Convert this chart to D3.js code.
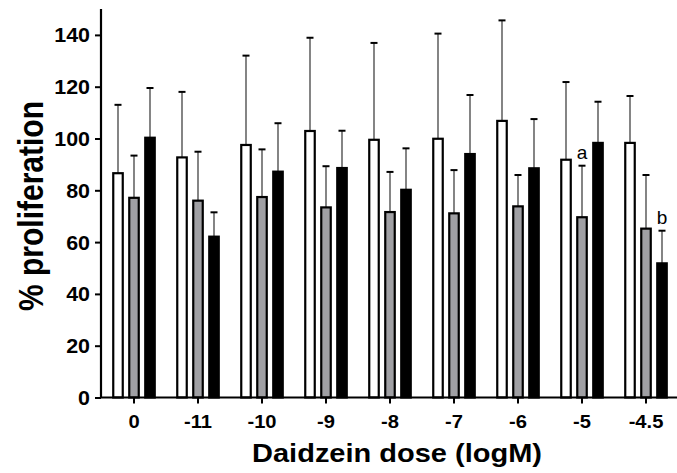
<!DOCTYPE html>
<html>
<head>
<meta charset="utf-8">
<script src="https://cdn.jsdelivr.net/npm/d3@7"></script>
<style>
  body { margin: 0; background: #fff; }
  text { font-family: "Liberation Sans", Arial, sans-serif; }
</style>
</head>
<body>
<svg id="chart" width="677" height="473"></svg>
<script>
// values
const doses = ["0", "-11", "-10", "-9", "-8", "-7", "-6", "-5", "-4.5"];
const series = ["white", "gray", "black"];
const meanWhite = [86.6, 92.7, 97.5, 102.9, 99.5, 99.9, 106.8, 91.8, 98.3];
const sdWhite   = [26.4, 25.3, 34.5, 36.0, 37.4, 40.6, 38.8, 30.0, 18.1];
const meanGray  = [77.1, 76.0, 77.4, 73.4, 71.6, 71.1, 73.8, 69.6, 65.2];
const sdGray    = [16.3, 18.9, 18.4, 15.9, 15.5, 16.7, 12.1, 19.9, 20.7];
const meanBlack = [100.3, 62.1, 87.2, 88.6, 80.2, 94.0, 88.5, 98.3, 51.8];
const sdBlack   = [19.2, 9.4, 18.7, 14.4, 16.0, 22.8, 19.0, 15.9, 12.6];
const yTicks = [0, 20, 40, 60, 80, 100, 120, 140];
const notes = [
  { dose: "-5", series: "gray", text: "a" },
  { dose: "-4.5", series: "black", text: "b" }
];

const fills = { white: "#ffffff", gray: "#a0a0a4", black: "#000000" };
const means = { white: meanWhite, gray: meanGray, black: meanBlack };
const sds = { white: sdWhite, gray: sdGray, black: sdBlack };

const svg = d3.select("#chart");

const x = d3.scaleBand().domain(doses).range([102, 678]);
const sub = d3.scaleBand().domain(series).range([-24, 24]);
const y = d3.scaleLinear().domain([0, 150]).range([397.5, 9]);
const barW = 9.5;

const rows = [];
series.forEach(s => {
  doses.forEach((d, i) => rows.push({ dose: d, s: s, v: means[s][i], sd: sds[s][i] }));
});
const cx = r => x(r.dose) + x.bandwidth() / 2 + sub(r.s) + sub.bandwidth() / 2;

// error bars (upper only)
const err = svg.append("g");
err.selectAll("line.stem")
  .data(rows)
  .join("line")
    .attr("class", "stem")
    .attr("x1", cx).attr("x2", cx)
    .attr("y1", d => y(d.v)).attr("y2", d => y(d.v + d.sd))
    .attr("stroke", "#333").attr("stroke-width", 1.2);
err.selectAll("line.cap")
  .data(rows)
  .join("line")
    .attr("class", "cap")
    .attr("x1", d => cx(d) - 3.5).attr("x2", d => cx(d) + 3.5)
    .attr("y1", d => y(d.v + d.sd)).attr("y2", d => y(d.v + d.sd))
    .attr("stroke", "#000").attr("stroke-width", 2);

// bars
svg.append("g").selectAll("rect")
  .data(rows)
  .join("rect")
    .attr("x", d => cx(d) - barW / 2)
    .attr("width", barW)
    .attr("y", d => y(d.v))
    .attr("height", d => y(0) - y(d.v))
    .attr("fill", d => fills[d.s])
    .attr("stroke", "#000")
    .attr("stroke-width", 2.2);

// axes
const yAxis = svg.append("g")
    .attr("transform", "translate(101,0)")
    .call(d3.axisLeft(y).tickValues(yTicks).tickSize(6).tickSizeOuter(0).tickPadding(5));
const xAxis = svg.append("g")
    .attr("transform", `translate(0,${y(0)})`)
    .call(d3.axisBottom(x).tickSize(6).tickSizeOuter(0).tickPadding(12));

[yAxis, xAxis].forEach(g => {
  g.select(".domain").attr("stroke-width", 2.2);
  g.selectAll(".tick line").attr("stroke-width", 2);
  g.selectAll("text").attr("font-weight", "bold").attr("fill", "#000");
});
yAxis.select(".domain").attr("d", `M0,${y(0)}V${y(150)}`);
xAxis.select(".domain").attr("d", "M101,0H677");
yAxis.selectAll("text")
    .attr("font-size", 19.5)
    .attr("dy", "0.36em")
    .attr("x", -11 / 1.1)
    .attr("transform", "scale(1.1,1)");
xAxis.selectAll("text")
    .attr("font-size", 18)
    .attr("transform", "scale(1.12,1)");

// significance letters
svg.append("g").selectAll("text")
  .data(notes)
  .join("text")
    .attr("x", d => cx({ dose: d.dose, s: d.series }))
    .attr("y", d => {
      const i = doses.indexOf(d.dose);
      return y(means[d.series][i] + sds[d.series][i]) - 7;
    })
    .attr("text-anchor", "middle")
    .attr("font-size", 19)
    .text(d => d.text);

// axis titles
svg.append("text")
    .attr("transform", "translate(397,462) scale(1.16,1)")
    .attr("text-anchor", "middle")
    .attr("font-size", 25)
    .attr("font-weight", "bold")
    .text("Daidzein dose (logM)");
svg.append("text")
    .attr("transform", "translate(43,206) rotate(-90) scale(1,1.15)")
    .attr("text-anchor", "middle")
    .attr("font-size", 30)
    .attr("font-weight", "bold")
    .text("% proliferation");
</script>
</body>
</html>
